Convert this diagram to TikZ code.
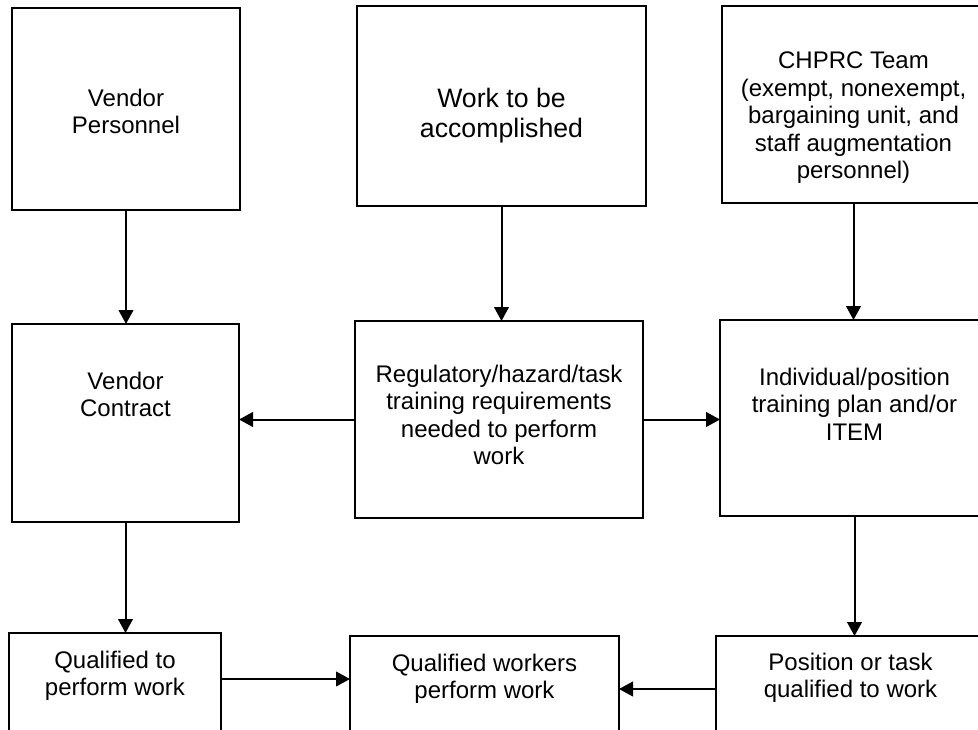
\documentclass[tikz,border=0pt]{standalone}
\usepackage{fontspec}
\setmainfont{Liberation Sans}
\usepackage{tikz}
\usetikzlibrary{positioning}
\usetikzlibrary{arrows.meta}
\tikzset{every picture/.style={line width=1.5pt}}
\tikzset{
  box/.style={draw, rectangle, inner sep=0pt, outer sep=0pt, anchor=north west},
  txt/.style={inner sep=0pt, align=center, font=\fontsize{18}{20.6}\selectfont},
  arr/.style={-{Triangle[length=10.5pt,width=11pt]}}
}

\begin{document}
\begin{tikzpicture}[x=0.75pt,y=0.75pt,yscale=-1,xscale=1]
      \useasboundingbox (0,0) rectangle (978,729);
      \clip (0,0) rectangle (978,729);
      \node [box, minimum width=171pt, minimum height=151.5pt] (vp) at (12,8) {};
      \node [box, minimum width=216.75pt, minimum height=150pt] (wk) at (357,6) {};
      \node [box, minimum width=197.25pt, minimum height=147.75pt] (ch) at (722,6) {};
      \node [box, minimum width=170.25pt, minimum height=148.5pt] (vc) at (12,324) {};
      \node [box, minimum width=216pt, minimum height=147.75pt] (rg) at (355,321) {};
      \node [box, minimum width=201.75pt, minimum height=147pt] (iv) at (720,320) {};
      \node [box, minimum width=159pt, minimum height=110.25pt] (qt) at (9,633) {};
      \node [box, minimum width=201.75pt, minimum height=108pt] (qw) at (350,636) {};
      \node [box, minimum width=201.75pt, minimum height=108pt] (ps) at (716,636) {};
      \node [txt, below=60pt of vp.north] (vptext) {Vendor\\Personnel};
      \node [txt, below=60.75pt of wk.north, font=\fontsize{20}{22.5}\selectfont] (wktext) {Work to be\\accomplished};
      \node [txt, below=33.75pt of ch.north] (chtext) {CHPRC Team\\(exempt, nonexempt,\\bargaining unit, and\\staff augmentation\\personnel)};
      \node [txt, below=35.25pt of vc.north] (vctext) {Vendor\\Contract};
      \node [txt, below=32.25pt of rg.north] (rgtext) {Regulatory/hazard/task\\training requirements\\needed to perform\\work};
      \node [txt, below=35.25pt of iv.north] (ivtext) {Individual/position\\training plan and/or\\ITEM};
      \node [txt, below=12.75pt of qt.north] (qttext) {Qualified to\\perform work};
      \node [txt, below=12.75pt of qw.north] (qwtext) {Qualified workers\\perform work};
      \node [txt, below=12pt of ps.north] (pstext) {Position or task\\qualified to work};
      \coordinate (rowa) at (0,679);
      \coordinate (rowb) at (0,689);
      \draw [arr] (vp.south) -- (vp.south |- vc.north);
      \draw [arr] (wk.south) -- (wk.south |- rg.north);
      \draw [arr] (ch.south) -- (ch.south |- iv.north);
      \draw [arr] (rg.west) -- (rg.west -| vc.east);
      \draw [arr] (rg.east) -- (rg.east -| iv.west);
      \draw [arr] (vc.south) -- (vc.south |- qt.north);
      \draw [arr] (iv.south) -- (iv.south |- ps.north);
      \draw [arr] (qt.east |- rowa) -- (qw.west |- rowa);
      \draw [arr] (ps.west |- rowb) -- (qw.east |- rowb);
\end{tikzpicture}
\end{document}
